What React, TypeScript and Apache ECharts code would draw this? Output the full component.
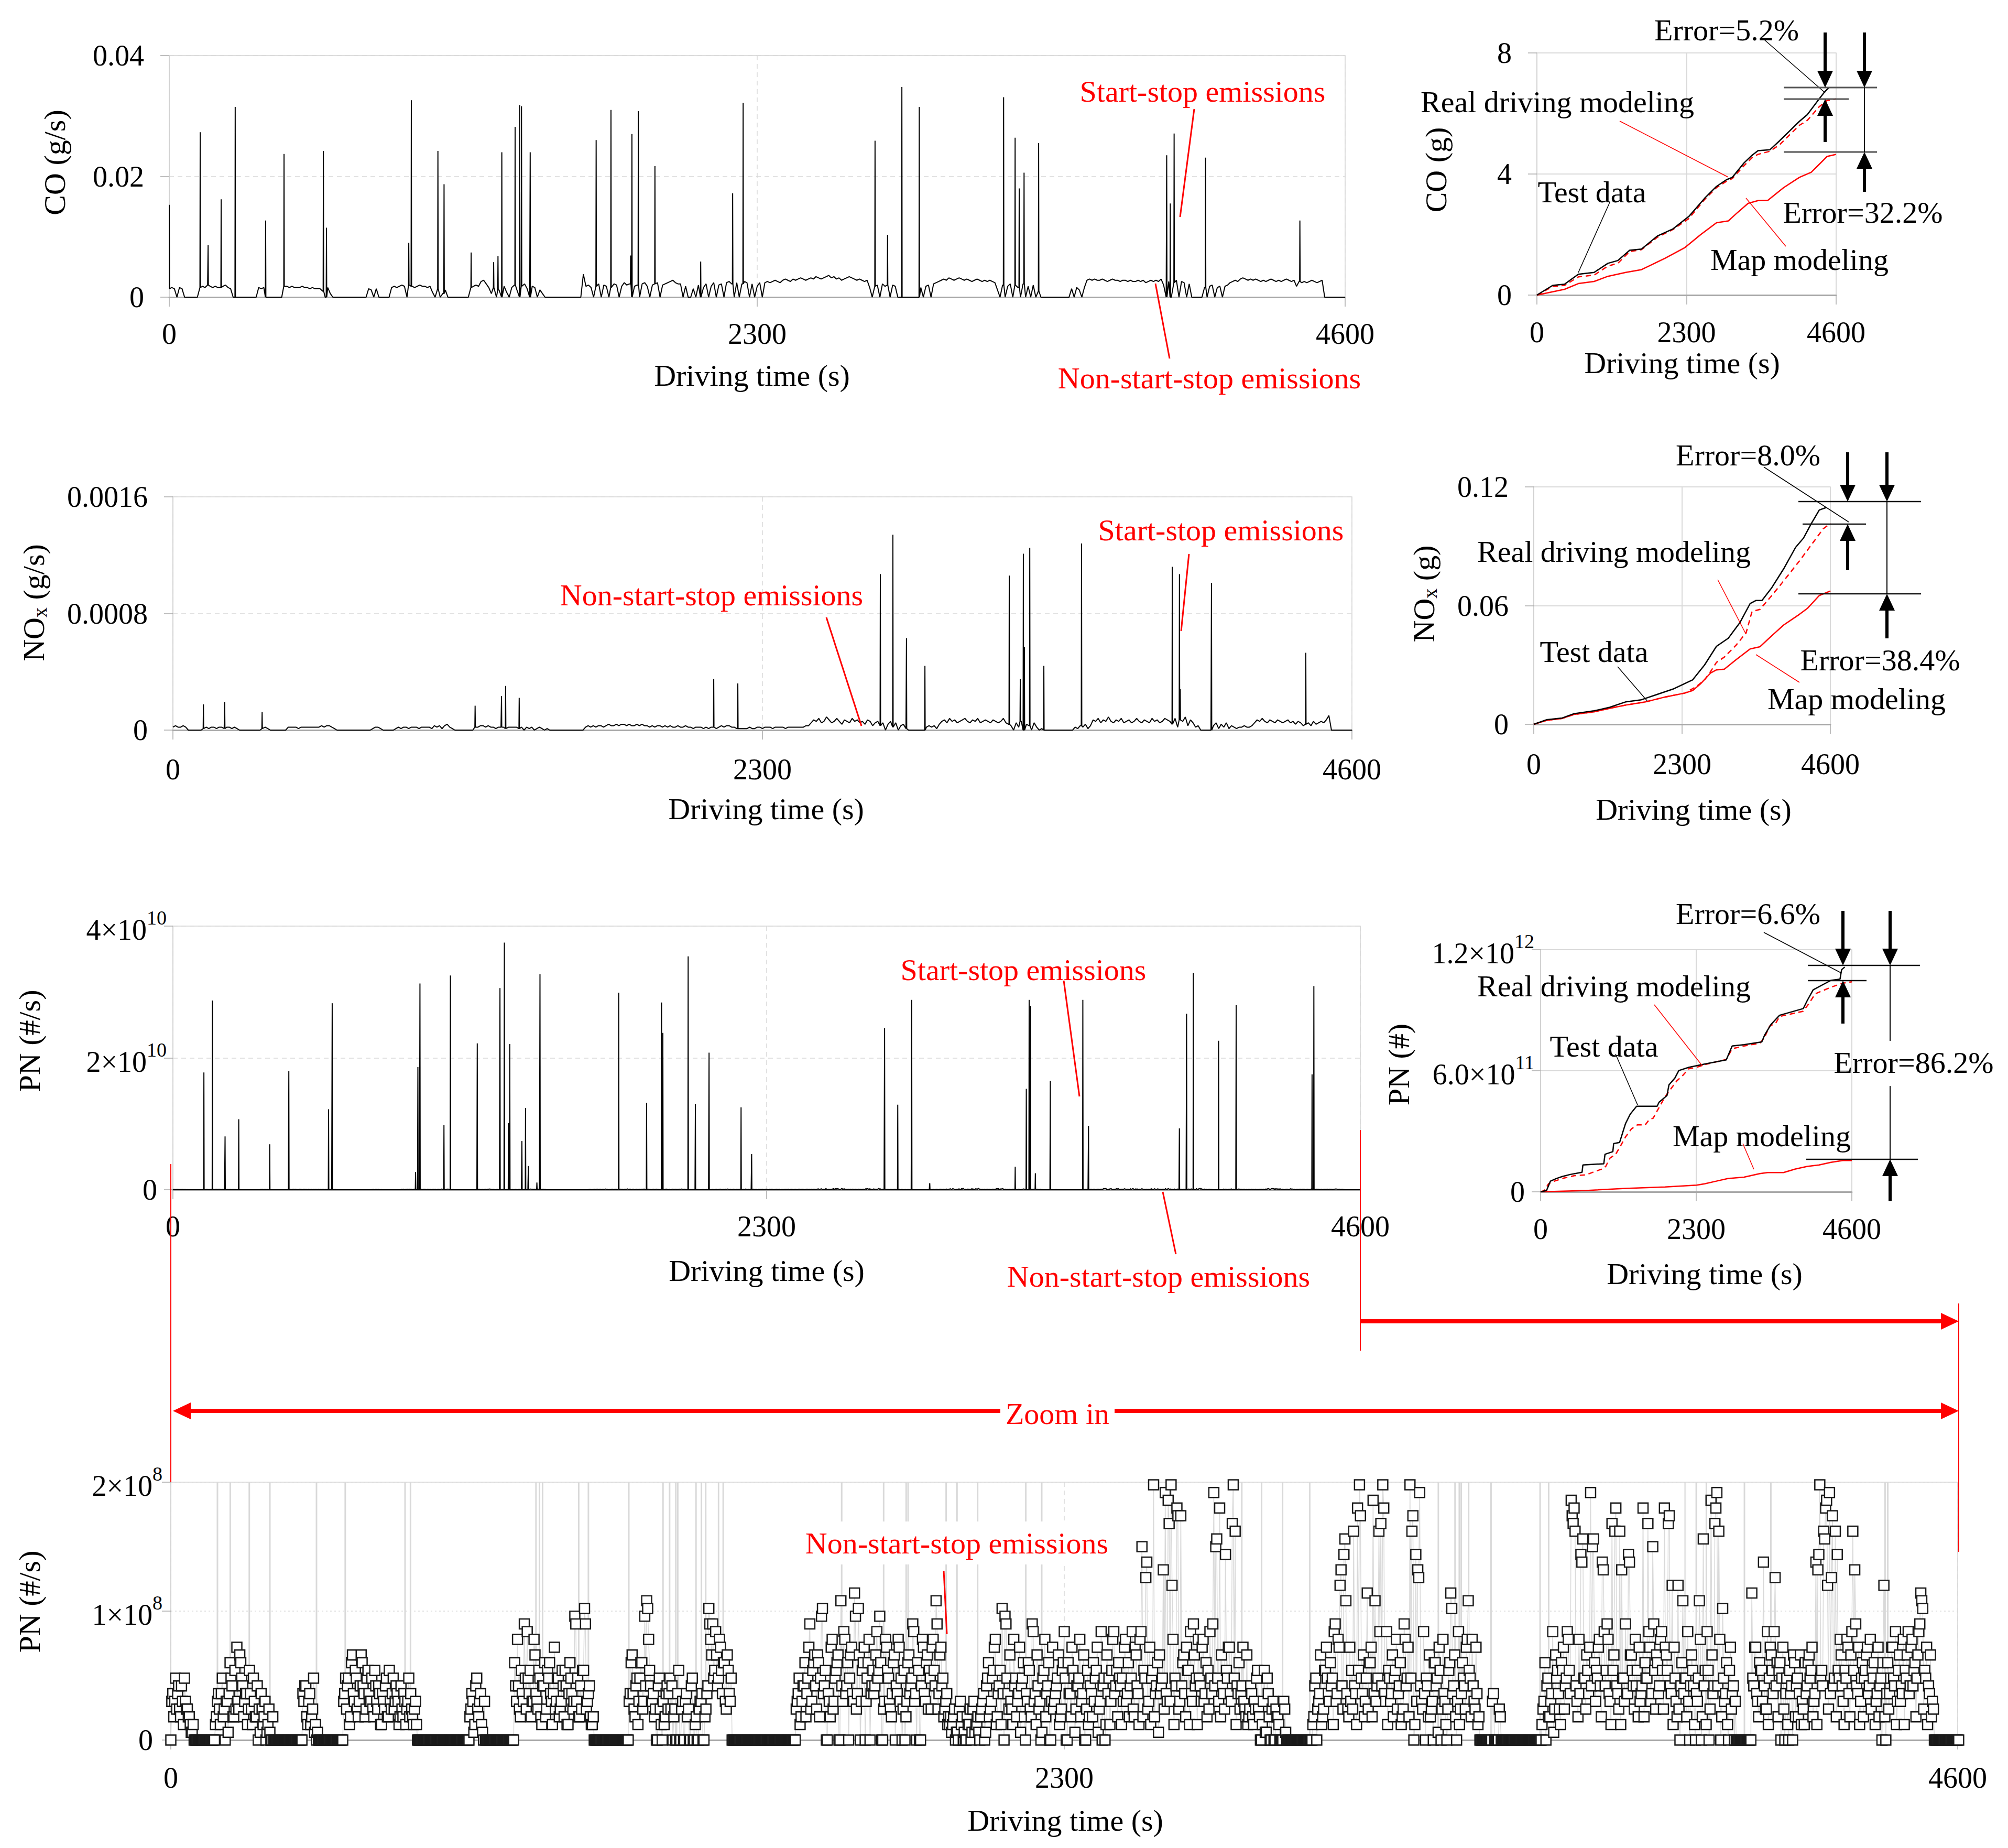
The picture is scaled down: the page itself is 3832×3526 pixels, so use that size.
import React, { useEffect, useRef } from 'react';
import * as echarts from 'echarts';

const FONT = '"Liberation Serif", "Times New Roman", Times, serif';
const RED = '#ff0000';
const LEVELS = '0123456789abcdefghijklmnopqrstuvwxyz';
const X_TICKS = [0, 2300, 4600];

// ---------- CO (g/s): baseline, 10 s per char, level x 0.0002 g/s ----------
const CO_STEP = 10;
const CO_UNIT = 0.0002;
const CO_BASE: [number, string][] = [
  [0, '787087000000' + '898a989889a87' + '0000000000878' + '0000000' + '99898'],
  [500, '8898878777' + '5083' + '00000000000000' + '7607' + '00000' + '8989a90a989a9'],
  [1000, '989407036000000000' + '89a9deb8' + '380609408a609b7098063' + '000'],
  [1500, '000000000000' + 'j9a809b0a9' + '08ba09cab0' + '9a0bc90abc' + '0abcdecb'],
  [2000, 'b090070a08b09c0ab0cdb0c0bdc0b09c0' + 'cdcdedcefedfefgfe'],
  [2500, 'fgfhgfghighfgefghgfefede' + '809a0b9a0a900' + '0000000' + '809a0b'],
  [3000, 'cdefegfefgfefedef' + 'edededc' + '60a09b0a80b090a05' + '000000000'],
  [3500, '000' + '708608' + 'efefeefede' + 'feedeededd' + 'edecdededf' + 'a0d0ce0dc0b'],
  [4000, '00000' + '809a08909a' + 'cdedfgfefe' + 'fededefede' + 'defede' + '9dcdcdedcde' + '000000000'],
];
// start-stop spikes [t (s), CO (g/s)]
const CO_SPIKES = [
  [0, 0.0153], [121, 0.0273], [152, 0.0086], [203, 0.0162], [258, 0.0315], [377, 0.0127], [449, 0.0237],
  [603, 0.0242], [615, 0.0115], [937, 0.009], [947, 0.0326], [1051, 0.0242], [1075, 0.0187], [1181, 0.0074],
  [1269, 0.0058], [1286, 0.0068], [1301, 0.024], [1353, 0.0282], [1371, 0.0318], [1378, 0.0316], [1412, 0.024],
  [1670, 0.026], [1728, 0.031], [1805, 0.0069], [1810, 0.027], [1835, 0.0308], [1900, 0.0217], [2079, 0.0059],
  [2204, 0.0172], [2245, 0.0322], [2761, 0.0259], [2810, 0.0103], [2866, 0.0348], [2934, 0.0315], [3264, 0.0331],
  [3309, 0.0264], [3325, 0.018], [3344, 0.0206], [3401, 0.0255], [3902, 0.0235], [3916, 0.0155], [3931, 0.0271],
  [4054, 0.0231], [4423, 0.0127],
];

// ---------- NOx (g/s): baseline, 10 s per char, level x 1e-5 g/s ----------
const NOX_STEP = 10;
const NOX_UNIT = 0.00001;
const NOX_BASE: [number, string][] = [
  [0, '232232' + '000000' + '12122122122121' + '000000000' + '121' + '0000000' + '2222122222222323321' +
    '00000000000000' + '1221' + '00000' + '12122122212222132313421'],
  [1100, '00000000' + '22332322122212222' + '120212012101' + '00000000000000' +
    '2323233234' + '3343443433' + '4343323233' + '2323223223' + '22122212'],
  [2090, '122123233221' + '111121' + '1221222122221222222233' + '5768569756' + '8647658675' + '6476356' +
    '350462503410' + '000000' + '232314'],
  [3000, '6758675678' + '6576856765' + '7656854' + '30526043052010' + '00000000000' + '2132413' +
    '7685769657' + '6856756865' + '7658675687' + '6' + '48276937523' + '00000' + '35142513' + '21223223' +
    '57686576576567564653' + '453645657a' + '000000000'],
];
const NOX_SPIKES = [
  [119, 0.000176], [202, 0.000193], [348, 0.000124], [1179, 0.000167], [1282, 0.000233], [1298, 0.000303],
  [1351, 0.000221], [2110, 0.00035], [2204, 0.00032], [2760, 0.00107], [2809, 0.00134], [2862, 0.00063],
  [2934, 0.00044], [3263, 0.00106], [3306, 0.00035], [3318, 0.00121], [3322, 0.00057], [3343, 0.00125],
  [3398, 0.00044], [3545, 0.00128], [3899, 0.00112], [3927, 0.00107], [3930, 0.00028], [4052, 0.00101],
  [4420, 0.00053],
];

// ---------- PN (#/s): non-start-stop part, 5 s per char, level x 6e6 #/s ----------
const PN_STEP = 5;
const PN_UNIT = 6e6;
const PN_BASE: [number, string][] = [
  [0, '065473584321'],
  [60, '00000000000'],
  [115, '25463056839c4a7564625301430210'],
  [265, '000000000000000'],
  [340, '673524100'],
  [385, '000000000000'],
  [445, '5872a6945b' + '7386549572' + '6483564753' + '46253425'],
  [635, '000000000000000000000000000'],
  [770, '36174520'],
  [810, '000000000000000'],
  [885, 'a5736f4895' + 'd6482739a5' + '6483579268' + '4g5379h463' + '2'],
  [1090, '000000000000000000'],
  [1180, '5a6385a4' + 'gid7' + '53074026487' + '306040530702045036' + 'hdf9b8c6a495'],
  [1445, '000000000000000000000000000000000'],
  [1610, '4625738f5a' + '7b3g6905c4' + '8a0i5d70b6' + 'j4h09c5a07' + '6b8g04d953' + 'a06c8405b7' + 'f5090d6a48' + 'c9i4b7352'],
  [2005, '2130142003204121'],
  [2085, '3507a48c26' + '9h0f6b4d85' + 'c7a0593e6b' + '408d6a0c57' + 'b39e0a6c84' + '7d5b0936a8' + 'c4e70b85d6' + '9a7'],
  [2450, '8c5a7e3b6d' + 'p9l4c8x6ab' + '7mw5sxd8u4' + 'ta6c9e5b8d' + '7c5a9e6wp8' + 'ub6o8c5xr7' + 'a6c4b3'],
  [2780, '7358402916' + '0404300510' + '0000000000' + '00'],
  [2940, '2705b39c6a' + '8e5dk7oi4c' + '9r6ux8b5ja' + 'cvi7rsx6e9' + '5b8d6a3f7c' + 'xr0omw5e07' + 'b40a8c0d50' + '9j6b0e4a7c' + 'i8d5c2'],
  [3370, '0000000600' + '4000000000' + '0000000000' + '00'],
  [3530, '2508361b94' + 'ac7e9vsr5d' + 'oq8b6wpa9c' + '7ne9d5sbu6' + 'rm8f6nb7d9' + 'c6ua8e5p9b' + '6d9ubs7kc5' + 'k0a68e0b70' + '5i0q9e0v6s' + 'wr0h5a0c60'],
  [4030, '00000000'],
  [4070, 'j7c5a9n4e8' + 'b6la90c080' + '60a73b52'],
  [4210, '6a8c5nmx9r' + 'ukwl7ro8b5' + '9d6brm7c5a' + '8b6d9a5c70' + 'k0a6c8e5b7' + 'd9b6c7a8ej' + 'h9c7b5'],
  [4540, '0000000000000'],
];
// second set of readings, half a step later
const PN_BASE_B: [number, string][] = [
  [2.5, '538647254312'],
  [62.5, '00000000000'],
  [117.5, '3628451a73' + '45b8362948' + '3746251403'],
  [267.5, '000000000000000'],
  [342.5, '572638210'],
  [387.5, '000000000000'],
  [447.5, '6483b5837a' + '6495837462' + '5739485627' + '35486342'],
  [637.5, '000000000000000000000000000'],
  [772.5, '45283615'],
  [812.5, '000000000000000'],
  [887.5, '7d4958e635' + 'b5937a4862' + 'c5849372a6' + '5f8349f572' + '3'],
  [1092.5, '000000000000000000'],
  [1182.5, '6b4728a5' + '7h95' + '64082537640' + '409050640803056047' + 'fb8e7d9a5b68'],
  [1447.5, '000000000000000000000000000000000'],
  [1612.5, '5837a6c49b' + '4a8h7063d5' + '9b07e6a8c5' + 'g6b5a08d69' + '7e9a05c846' + 'b7d5093a68' + 'e6a07c5b94' + 'd7f6c8463'],
  [2007.5, '3241053102415230'],
  [2087.5, '4618359d37' + '26g8452736' + '1836a4f527' + '5193705468' + '24a8063917' + '8360427359' + '15082629e7' + '382'],
  [2452.5, '5d6384c72e' + '38n5293716' + '846v5k27t5' + '7b3926f728' + '5d6348f7q5' + '3749c6s826' + '475324'],
  [2782.5, '6249305183' + '0503200400' + '0000000000' + '00'],
  [2942.5, '3846249857' + '2f6cm4q635' + '4729t6384a' + '3658e7u528' + '6394724d83' + '8t25l74683' + '35a7194624' + 'ah7352684d' + '937463'],
  [3372.5, '0000005000' + '3000000000' + '0000000000' + '00'],
  [3532.5, '4a735e4862' + '948d6tu736' + 'n849c7q58d' + '3m7f629r74' + '2856ob9473' + '5738sc6f4a' + '7e4c9t6283' + '47i8357926' + '8d37294b7u' + '7d38629475'],
  [4032.5, '00000000'],
  [4072.5, '8c6395742c' + '9e73a84629' + '7b38624a'],
  [4212.5, '7b9362o87q' + 'v46t839d72' + '8c3e9f6283' + '9c7482638a' + '3648c72956' + '28e7d93bfi' + '482634'],
  [4542.5, '0000000000000'],
];
// start-stop spikes [t (s), PN (1e10 #/s)]
const PN_SPIKE_UNIT = 1e10;
const PN_SPIKES = [
  [120, 1.78], [153, 2.87], [202, 0.81], [255, 1.07], [375, 0.69], [449, 1.80], [603, 1.22], [617, 2.83],
  [940, 0.27], [949, 1.86], [957, 3.13], [1050, 0.98], [1075, 3.25], [1179, 2.22], [1267, 3.06], [1284, 3.75],
  [1300, 1.01], [1305, 2.21], [1352, 0.74], [1366, 1.24], [1377, 0.36], [1410, 0.11], [1422, 3.27], [1727, 2.99],
  [1835, 1.32], [1893, 2.84], [1898, 2.38], [1996, 3.54], [2024, 1.30], [2077, 2.08], [2201, 1.25], [2242, 0.54],
  [2757, 2.45], [2808, 1.29], [2862, 2.88], [2932, 0.10], [3263, 0.35], [3306, 1.53], [3317, 2.88], [3322, 2.79],
  [3341, 0.25], [3399, 1.65], [3525, 2.88], [3547, 0.97], [3899, 0.93], [3927, 2.67], [3953, 3.29], [4051, 2.26],
  [4119, 2.80], [4413, 1.75], [4420, 3.09],
];

// ---------- cumulative curves [t (s), total] ----------
const CO_TEST = [[0, 0], [243, 0.32], [425, 0.36], [637, 0.69], [880, 0.75], [1092, 1.05], [1244, 1.14], [1426, 1.48], [1608, 1.52], [1851, 1.95], [2094, 2.19], [2337, 2.6], [2579, 3.2], [2761, 3.59], [2913, 3.81], [3004, 3.89], [3186, 4.37], [3308, 4.62], [3399, 4.77], [3581, 4.8], [3732, 5.1], [4036, 5.74], [4157, 5.96], [4339, 6.48], [4430, 6.73], [4491, 6.86]];
const CO_REAL = [[0, 0], [243, 0.28], [425, 0.32], [637, 0.6], [880, 0.66], [1092, 0.96], [1244, 1.05], [1426, 1.44], [1608, 1.5], [1851, 1.91], [2094, 2.17], [2337, 2.53], [2579, 3.16], [2761, 3.55], [2913, 3.76], [3004, 3.85], [3186, 4.28], [3308, 4.54], [3399, 4.65], [3581, 4.75], [3732, 4.97], [4036, 5.61], [4157, 5.77], [4339, 6.22], [4461, 6.43], [4600, 6.48]];
const CO_MAP = [[0, 0], [425, 0.19], [637, 0.38], [880, 0.45], [1092, 0.62], [1366, 0.75], [1608, 0.84], [1972, 1.22], [2276, 1.57], [2519, 2.0], [2761, 2.39], [2943, 2.45], [3065, 2.69], [3247, 3.03], [3399, 3.12], [3550, 3.13], [3793, 3.55], [4036, 3.89], [4218, 4.06], [4461, 4.58], [4600, 4.65]];

const NOX_TEST = [[0, 0], [196, 0.0023], [442, 0.0032], [626, 0.0054], [932, 0.0068], [1178, 0.0086], [1423, 0.0113], [1668, 0.0124], [1913, 0.0151], [2159, 0.0178], [2465, 0.0225], [2649, 0.03], [2833, 0.0394], [3017, 0.0435], [3201, 0.0516], [3355, 0.061], [3447, 0.0626], [3539, 0.0626], [3692, 0.0691], [3876, 0.0786], [4060, 0.0894], [4183, 0.0941], [4305, 0.1015], [4428, 0.1083], [4538, 0.1096]];
const NOX_REAL = [[0, 0], [196, 0.002], [442, 0.003], [626, 0.005], [932, 0.0063], [1178, 0.0081], [1423, 0.0097], [1730, 0.0113], [2036, 0.0138], [2343, 0.0158], [2527, 0.0192], [2649, 0.0225], [2741, 0.0266], [2833, 0.0313], [2956, 0.034], [3140, 0.0401], [3293, 0.0462], [3385, 0.057], [3508, 0.0581], [3692, 0.0651], [3876, 0.0725], [4121, 0.0826], [4305, 0.0907], [4489, 0.0988], [4600, 0.1015]];
const NOX_MAP = [[0, 0], [196, 0.002], [442, 0.003], [626, 0.005], [932, 0.0063], [1178, 0.0081], [1423, 0.0097], [1730, 0.0113], [2036, 0.0138], [2343, 0.0158], [2465, 0.0171], [2588, 0.0205], [2741, 0.0259], [2833, 0.0275], [2956, 0.0279], [3140, 0.0327], [3355, 0.0381], [3508, 0.0392], [3692, 0.0448], [3876, 0.0502], [4121, 0.0556], [4244, 0.0586], [4428, 0.0651], [4600, 0.0674]];

const PN_TEST = [[0, 0], [88, 6.6e9], [146, 5.3e10], [234, 6.6e10], [321, 7.6e10], [438, 8.6e10], [613, 9.7e10], [625, 1.33e11], [934, 1.39e11], [952, 1.86e11], [1068, 1.99e11], [1080, 2.39e11], [1168, 2.45e11], [1255, 3.38e11], [1325, 3.85e11], [1419, 4.24e11], [1722, 4.24e11], [1751, 4.44e11], [1868, 4.77e11], [1897, 5.3e11], [1985, 5.64e11], [2043, 6.01e11], [2189, 6.17e11], [2423, 6.33e11], [2744, 6.54e11], [2831, 7.23e11], [3007, 7.29e11], [3269, 7.43e11], [3310, 7.76e11], [3404, 8.29e11], [3532, 8.75e11], [3882, 9.08e11], [3941, 9.48e11], [4028, 1.001e12], [4291, 1.048e12], [4425, 1.054e12], [4449, 1.101e12], [4495, 1.114e12]];
const PN_REAL = [[0, 0], [58, 6.6e9], [117, 4.0e10], [204, 5.3e10], [321, 6.6e10], [496, 8.0e10], [671, 8.4e10], [905, 1.13e11], [963, 1.26e11], [1022, 1.66e11], [1109, 1.86e11], [1168, 2.19e11], [1255, 2.72e11], [1343, 3.12e11], [1430, 3.32e11], [1547, 3.32e11], [1605, 3.58e11], [1664, 3.65e11], [1751, 4.18e11], [1839, 4.71e11], [1927, 5.11e11], [2014, 5.5e11], [2102, 5.77e11], [2189, 6.1e11], [2306, 6.17e11], [2423, 6.3e11], [2744, 6.56e11], [2831, 7.09e11], [3007, 7.23e11], [3240, 7.36e11], [3310, 7.65e11], [3386, 8.22e11], [3474, 8.35e11], [3532, 8.69e11], [3882, 8.95e11], [3970, 9.35e11], [4057, 9.81e11], [4291, 1.014e12], [4466, 1.034e12], [4600, 1.041e12]];
const PN_MAP = [[0, 0], [671, 6.6e9], [1255, 1.72e10], [1839, 2.39e10], [2306, 3.32e10], [2423, 3.98e10], [2598, 5.3e10], [2773, 6.63e10], [3007, 7.29e10], [3240, 9.02e10], [3357, 9.55e10], [3590, 9.55e10], [3766, 1.13e11], [3941, 1.26e11], [4116, 1.33e11], [4291, 1.46e11], [4466, 1.55e11], [4600, 1.55e11]];

// ---------- helpers ----------
function decode(segs: [number, string][], step: number, unit: number): number[][] {
  const out: number[][] = [];
  segs.forEach(([t0, s]) => {
    for (let i = 0; i < s.length; i++) {
      const k = LEVELS.indexOf(s[i]);
      if (k >= 0) out.push([t0 + i * step, k * unit]);
    }
  });
  out.sort((a, b) => a[0] - b[0]);
  return out;
}
function nearest(base: number[][], t: number) {
  let best = base[0];
  let bd = Infinity;
  for (const p of base) {
    const d = Math.abs(p[0] - t);
    if (d < bd) { bd = d; best = p; }
  }
  return best[1];
}
function spiky(base: number[][], spikes: number[][], unit: number, dt: number) {
  const pts = base.filter(([t]) => !spikes.some(([s]) => Math.abs(t - s) <= dt));
  spikes.forEach(([s, v]) => {
    const b = nearest(base, s);
    pts.push([s - dt, b], [s, v * unit], [s + dt, b]);
  });
  pts.sort((a, b) => a[0] - b[0]);
  return pts;
}

const txt = (x: number, y: number, text: string, fill = '#000', extra: any = {}) => ({
  type: 'text', x, y, z: 60, silent: true,
  style: { text, fill, fontSize: 58, fontFamily: FONT, align: 'center', verticalAlign: 'middle', textAlign: 'center', textVerticalAlign: 'middle', ...extra },
});
const seg = (x1: number, y1: number, x2: number, y2: number, stroke = '#000', lineWidth = 1.5) => ({
  type: 'line', z: 60, silent: true, shape: { x1, y1, x2, y2 }, style: { stroke, lineWidth },
});
function vArrow(x: number, y1: number, y2: number, color = '#000', w = 6, hw = 15, hl = 32) {
  const d = y2 > y1 ? 1 : -1;
  return [
    seg(x, y1, x, y2 - d * (hl - 4), color, w),
    { type: 'polygon', z: 60, silent: true, shape: { points: [[x - hw, y2 - d * hl], [x + hw, y2 - d * hl], [x, y2]] }, style: { fill: color } },
  ];
}
function hArrow(x1: number, x2: number, y: number, color = RED, w = 8, hw = 16, hl = 34) {
  const d = x2 > x1 ? 1 : -1;
  return [
    seg(x1, y, x2 - d * (hl - 4), y, color, w),
    { type: 'polygon', z: 60, silent: true, shape: { points: [[x2 - d * hl, y - hw], [x2 - d * hl, y + hw], [x2, y]] }, style: { fill: color } },
  ];
}
const yName = (x: number, y: number, text: string) => ({
  type: 'text', x, y, z: 60, silent: true, rotation: Math.PI / 2,
  style: {
    text, fill: '#000', fontSize: 58, fontFamily: FONT, align: 'center', verticalAlign: 'middle', textAlign: 'center', textVerticalAlign: 'middle',
    rich: {
      n: { fontSize: 58, fontFamily: FONT, lineHeight: 60, verticalAlign: 'top' },
      sub: { fontSize: 38, fontFamily: FONT, lineHeight: 30, verticalAlign: 'bottom' },
    },
  },
});

const GRIDS = [
  [323, 106, 2244, 461], // CO g/s
  [2933, 101, 571, 462], // CO g
  [330, 948, 2250, 445], // NOx g/s
  [2927, 929, 566, 453], // NOx g
  [330, 1767, 2266, 503], // PN #/s
  [2940, 1812, 594, 462], // PN #
  [326, 2828, 3410, 492], // PN zoom
];
const RIGHT = [false, true, false, true, false, true, false];
const X_LABEL_MARGIN = [42, 43, 47, 48, 42, 43, 44];

const SUP_RICH = {
  b: { fontSize: 56, fontFamily: FONT, color: '#000', lineHeight: 70, verticalAlign: 'bottom' },
  s: { fontSize: 38, fontFamily: FONT, color: '#000', lineHeight: 38, verticalAlign: 'top' },
  z: { fontSize: 56, fontFamily: FONT, color: '#000', padding: [0, 18, 0, 0] },
};

const Y_CFG: any[] = [
  { max: 0.04, interval: 0.02, fmt: (v: number) => (v === 0 ? '0' : v.toFixed(2)), margin: 48 },
  { max: 8, interval: 4, fmt: (v: number) => String(Math.round(v)), margin: 48 },
  { max: 0.0016, interval: 0.0008, fmt: (v: number) => (v === 0 ? '0' : v.toFixed(4)), margin: 48 },
  { max: 0.12, interval: 0.06, fmt: (v: number) => (v === 0 ? '0' : v.toFixed(2)), margin: 48 },
  { max: 4e10, interval: 2e10, fmt: (v: number) => (v === 0 ? '{z|0}' : `{b|${Math.round(v / 1e10)}×10}{s|10}`), margin: 12, rich: true },
  { max: 1.2e12, interval: 6e11, fmt: (v: number) => (v === 0 ? '{z|0}' : v > 1e12 ? '{b|1.2×10}{s|12}' : '{b|6.0×10}{s|11}'), margin: 12, rich: true },
  { max: 2e8, interval: 1e8, fmt: (v: number) => (v === 0 ? '{z|0}' : `{b|${Math.round(v / 1e8)}×10}{s|8}`), margin: 16, rich: true },
];

function buildOption() {
  const coBase = decode(CO_BASE, CO_STEP, CO_UNIT);
  const noxBase = decode(NOX_BASE, NOX_STEP, NOX_UNIT);
  const pnBase = decode([...PN_BASE, ...PN_BASE_B], PN_STEP, PN_UNIT);
  const coLine = spiky(coBase, CO_SPIKES, 1, 1);
  const noxLine = spiky(noxBase, NOX_SPIKES, 1, 1);
  const pnLine = spiky(pnBase, PN_SPIKES, PN_SPIKE_UNIT, 1);

  const grid = GRIDS.map((g) => ({
    left: g[0], top: g[1], width: g[2], height: g[3], show: true,
    borderColor: '#d4d4d4', borderWidth: 1.5, backgroundColor: 'transparent', containLabel: false,
  }));
  const xAxis = GRIDS.map((g, i) => ({
    type: 'value', gridIndex: i, min: X_TICKS[0], max: X_TICKS[2], interval: X_TICKS[1],
    axisLine: { show: true, onZero: false, lineStyle: { color: '#a8a8a8', width: 3 } },
    axisTick: { show: true, length: 18, lineStyle: { color: '#a8a8a8', width: 1.5 } },
    axisLabel: {
      show: true, margin: X_LABEL_MARGIN[i], fontSize: 56, fontFamily: FONT, color: '#000',
      showMinLabel: true, showMaxLabel: true, formatter: (v: number) => String(Math.round(v)),
    },
    splitLine: { show: true, lineStyle: { color: '#d9d9d9', width: RIGHT[i] ? 2 : 1.5, type: RIGHT[i] ? 'solid' : [9, 7] } },
  }));
  const yAxis = Y_CFG.map((c, i) => ({
    type: 'value', gridIndex: i, min: 0, max: c.max, interval: c.interval,
    axisLine: { show: true, onZero: false, lineStyle: { color: '#cfcfcf', width: 1.5 } },
    axisTick: { show: true, length: 17, lineStyle: { color: '#a8a8a8', width: 1.5 } },
    axisLabel: {
      show: true, margin: c.margin, fontSize: 56, fontFamily: FONT, color: '#000', formatter: c.fmt,
      showMinLabel: true, showMaxLabel: true, ...(c.rich ? { rich: SUP_RICH } : {}),
    },
    splitLine: {
      show: true,
      lineStyle: { color: '#d9d9d9', width: RIGHT[i] ? 2 : 1.5, type: RIGHT[i] ? 'solid' : i === 6 ? [3, 5] : [9, 7] },
    },
  }));

  const base = { type: 'line', showSymbol: false, silent: true, clip: true, animation: false };
  const cum = (gi: number, data: number[][], kind: string) => ({
    ...base, xAxisIndex: gi, yAxisIndex: gi, data, z: kind === 'test' ? 4 : 3,
    lineStyle: { color: kind === 'test' ? '#000' : RED, width: 2.5, type: kind === 'real' ? [10, 7] : 'solid' },
  });

  const series: any[] = [
    { ...base, xAxisIndex: 0, yAxisIndex: 0, data: coLine, lineStyle: { color: '#000', width: 2 } },
    cum(1, CO_MAP, 'map'), cum(1, CO_REAL, 'real'), cum(1, CO_TEST, 'test'),
    { ...base, xAxisIndex: 2, yAxisIndex: 2, data: noxLine, lineStyle: { color: '#000', width: 2 } },
    cum(3, NOX_MAP, 'map'), cum(3, NOX_REAL, 'real'), cum(3, NOX_TEST, 'test'),
    { ...base, xAxisIndex: 4, yAxisIndex: 4, data: pnLine, lineStyle: { color: '#000', width: 2 } },
    cum(5, PN_MAP, 'map'), cum(5, PN_REAL, 'real'), cum(5, PN_TEST, 'test'),
    { ...base, xAxisIndex: 6, yAxisIndex: 6, data: pnLine, z: 2, lineStyle: { color: '#d9d9d9', width: 1.5 } },
    {
      type: 'scatter', xAxisIndex: 6, yAxisIndex: 6, data: pnBase, silent: true, clip: false, z: 3,
      symbol: 'rect', symbolSize: 19, progressive: 0, large: false,
      itemStyle: { color: '#ffffff', borderColor: '#1a1a1a', borderWidth: 2.5, opacity: 1 },
    },
  ];

  const G: any[] = [];
  // axis titles
  const xt = [[1435, 716], [3210, 692], [1462, 1543], [3232, 1544], [1463, 2424], [3253, 2430], [2033, 3473]];
  xt.forEach(([x, y]) => G.push(txt(x, y, 'Driving time (s)')));
  G.push(yName(104, 310, 'CO (g/s)'));
  G.push(yName(2740, 324, 'CO (g)'));
  G.push(yName(65, 1150, '{n|NO}{sub|x}{n| (g/s)}'));
  G.push(yName(2718, 1133, '{n|NO}{sub|x}{n| (g)}'));
  G.push(yName(56, 1986, 'PN (#/s)'));
  G.push(yName(2669, 2031, 'PN (#)'));
  G.push(yName(56, 3056, 'PN (#/s)'));

  // red annotations, left panels
  G.push(txt(2295, 174, 'Start-stop emissions', RED));
  G.push(seg(2279, 208, 2252, 414, RED, 3));
  G.push(txt(2308, 721, 'Non-start-stop emissions', RED));
  G.push(seg(2205, 541, 2232, 684, RED, 3));
  G.push(txt(2330, 1011, 'Start-stop emissions', RED));
  G.push(seg(2269, 1057, 2254, 1204, RED, 3));
  G.push(txt(1358, 1135, 'Non-start-stop emissions', RED));
  G.push(seg(1577, 1178, 1644, 1385, RED, 3));
  G.push(txt(1953, 1850, 'Start-stop emissions', RED));
  G.push(seg(2030, 1871, 2060, 2092, RED, 3));
  G.push(txt(2211, 2435, 'Non-start-stop emissions', RED));
  G.push(seg(2219, 2274, 2244, 2393, RED, 3));
  G.push(txt(1826, 2944, 'Non-start-stop emissions', RED, { backgroundColor: '#fff', padding: [12, 14] }));
  G.push(seg(1801, 2997, 1807, 3118, RED, 3));

  // zoom-in markers
  G.push(seg(326, 2221, 326, 2828, RED, 2));
  G.push(seg(2596, 2156, 2596, 2577, RED, 2));
  G.push(seg(3738, 2487, 3738, 2961, RED, 2));
  G.push(...hArrow(2596, 3738, 2521));
  G.push(...hArrow(2020, 330, 2692));
  G.push(...hArrow(2020, 3738, 2692));
  G.push(txt(2018, 2697, 'Zoom in', RED, { backgroundColor: '#fff', padding: [2, 10] }));

  // CO (g) annotations
  G.push(txt(3295, 57, 'Error=5.2%'));
  G.push(seg(3366, 75, 3483, 177, '#000', 1.5));
  G.push(seg(3404, 167, 3582, 167, '#555', 3));
  G.push(seg(3404, 189, 3528, 189, '#555', 3));
  G.push(seg(3404, 290, 3582, 290, '#555', 3));
  G.push(...vArrow(3483, 62, 167), ...vArrow(3483, 271, 189), ...vArrow(3558, 62, 167), ...vArrow(3558, 366, 290));
  G.push(seg(3558, 167, 3558, 290, '#000', 2));
  G.push(txt(2972, 194, 'Real driving modeling'));
  G.push(seg(3091, 231, 3298, 338, RED, 1.5));
  G.push(txt(3038, 366, 'Test data'));
  G.push(seg(3072, 386, 3012, 520, '#000', 1.5));
  G.push(txt(3555, 405, 'Error=32.2%'));
  G.push(txt(3434, 495, 'Map modeling'));
  G.push(seg(3332, 378, 3408, 470, RED, 1.5));

  // NOx (g) annotations
  G.push(txt(3336, 868, 'Error=8.0%'));
  G.push(seg(3366, 891, 3528, 996, '#000', 1.5));
  G.push(seg(3432, 957, 3666, 957, '#111', 2.5));
  G.push(seg(3440, 1000, 3561, 1000, '#111', 2.5));
  G.push(seg(3432, 1133, 3666, 1133, '#111', 2.5));
  G.push(...vArrow(3526, 863, 957), ...vArrow(3526, 1088, 1000), ...vArrow(3601, 863, 957), ...vArrow(3601, 1218, 1133));
  G.push(seg(3601, 957, 3601, 1133, '#000', 2));
  G.push(txt(3080, 1052, 'Real driving modeling'));
  G.push(seg(3278, 1106, 3332, 1210, RED, 1.5));
  G.push(txt(3042, 1243, 'Test data'));
  G.push(seg(3087, 1272, 3144, 1338, '#000', 1.5));
  G.push(txt(3588, 1259, 'Error=38.4%'));
  G.push(txt(3543, 1333, 'Map modeling'));
  G.push(seg(3351, 1249, 3434, 1302, RED, 1.5));

  // PN (#) annotations
  G.push(txt(3336, 1743, 'Error=6.6%'));
  G.push(seg(3366, 1779, 3513, 1856, '#000', 1.5));
  G.push(seg(3450, 1842, 3664, 1842, '#111', 2.5));
  G.push(seg(3450, 1871, 3562, 1871, '#111', 2.5));
  G.push(seg(3447, 2212, 3660, 2212, '#111', 2.5));
  G.push(...vArrow(3517, 1738, 1842), ...vArrow(3517, 1953, 1871), ...vArrow(3607, 1738, 1842), ...vArrow(3607, 2292, 2212));
  G.push(seg(3607, 1842, 3607, 1986, '#000', 2));
  G.push(seg(3607, 2072, 3607, 2212, '#000', 2));
  G.push(txt(3080, 1881, 'Real driving modeling'));
  G.push(seg(3157, 1917, 3249, 2034, RED, 1.5));
  G.push(txt(3061, 1996, 'Test data'));
  G.push(seg(3083, 2011, 3125, 2108, '#000', 1.5));
  G.push(txt(3652, 2027, 'Error=86.2%'));
  G.push(txt(3362, 2167, 'Map modeling'));
  G.push(seg(3326, 2182, 3347, 2231, RED, 1.5));

  return {
    animation: false,
    backgroundColor: '#ffffff',
    textStyle: { fontFamily: FONT },
    grid, xAxis, yAxis, series,
    graphic: { elements: G },
  };
}

export default function App() {
  const ref = useRef<HTMLDivElement>(null);
  useEffect(() => {
    if (!ref.current) return;
    const chart = echarts.init(ref.current, null, { renderer: 'svg' });
    chart.setOption(buildOption() as any);
    return () => chart.dispose();
  }, []);
  return (
    <div
      ref={ref}
      style={{ position: 'absolute', left: 0, top: 0, width: 3832, height: 3526, background: '#fff' }}
    />
  );
}
